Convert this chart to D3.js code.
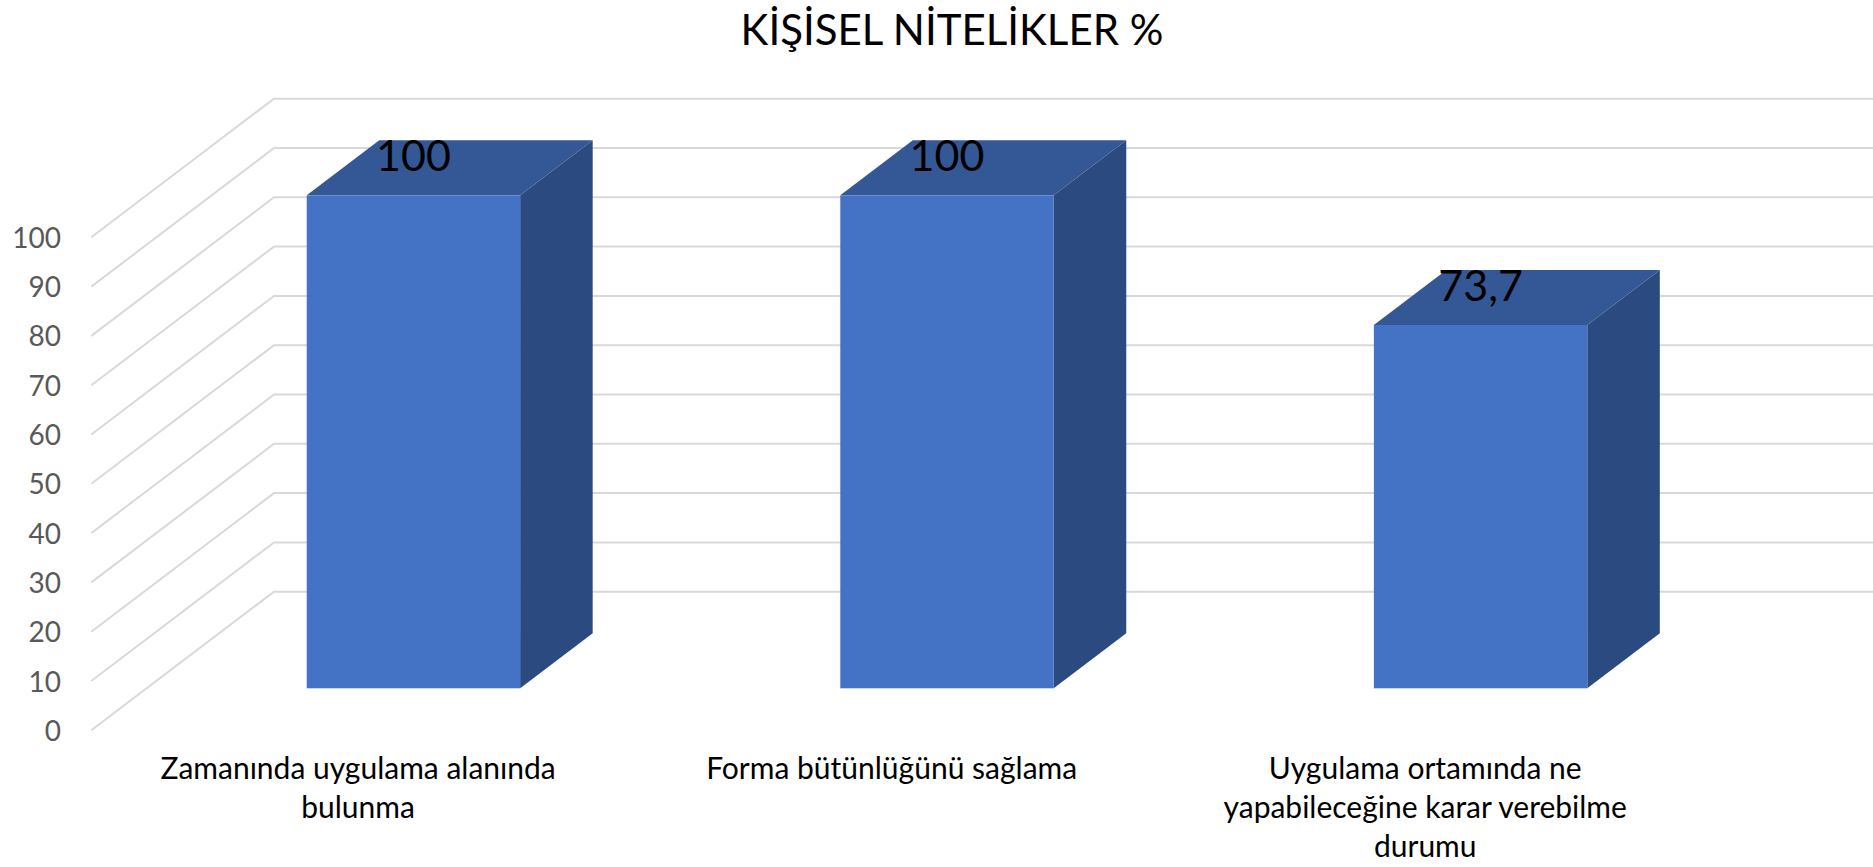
<!DOCTYPE html>
<html lang="tr">
<head>
<meta charset="utf-8">
<script src="https://cdnjs.cloudflare.com/ajax/libs/d3/7.9.0/d3.min.js"></script>
<style>
html,body{margin:0;padding:0;background:#fff;overflow:hidden}
svg{display:block;font-family:Lato,"Open Sans",sans-serif}
</style>
</head>
<body>
<svg id="chart" width="1873" height="867"></svg>
<script>
const chartTitle = "KİŞİSEL NİTELİKLER %";
const categories = ["Zamanında uygulama alanında bulunma", "Forma bütünlüğünü sağlama", "Uygulama ortamında ne yapabileceğine karar verebilme durumu"];
const categoryLines = [
  ["Zamanında uygulama alanında", "bulunma"],
  ["Forma bütünlüğünü sağlama"],
  ["Uygulama ortamında ne", "yapabileceğine karar verebilme", "durumu"]
];
const values = [100, 100, 73.7];
const valueLabels = ["100", "100", "73,7"];
const yTicks = [0, 10, 20, 30, 40, 50, 60, 70, 80, 90, 100];

const svg = d3.select("#chart");
const W = 1873;
const plotLeft = 91.3, plotRight = 1692;
const yZero = 730.3, yHundred = 237.3;
const wallDx = 182.7, wallDy = 138.6;
const depthStart = 0.303, depthEnd = 0.7;

const x = d3.scaleBand().domain(categories).range([plotLeft, plotRight]).paddingInner(0.6).paddingOuter(0.3);
const y = d3.scaleLinear().domain([0, 100]).range([yZero, yHundred]);
const line = d3.line();

// gridlines: side wall and back wall
svg.append("g").selectAll("path").data(yTicks).join("path")
  .attr("fill", "none").attr("stroke", "#D9D9D9").attr("stroke-width", 2)
  .attr("d", t => line([[plotLeft, y(t)], [plotLeft + wallDx, y(t) - wallDy], [W, y(t) - wallDy]]));

// tick labels
const yAxis = svg.append("g").attr("transform", "translate(61,0)")
  .call(d3.axisLeft(y).tickValues(yTicks).tickSize(0).tickPadding(0).tickFormat(d3.format("d")));
yAxis.select(".domain").remove();
yAxis.selectAll("text").attr("fill", "#595959").attr("font-size", 28).attr("font-family", "Lato").attr("dy", "0.36em");

// 3D bars
const offs = d => [wallDx * d, -wallDy * d];
const [sx, sy] = offs(depthStart);
const [ex, ey] = offs(depthEnd);
const ddx = ex - sx, ddy = ey - sy;
const bars = svg.append("g").selectAll("g").data(categories).join("g");
const fx = d => x(d) + sx;
const fr = d => x(d) + sx + x.bandwidth();
const ft = (d, i) => y(values[i]) + sy;
const fb = y(0) + sy;

bars.append("path").attr("fill", "#2B4A80")
  .attr("d", (d, i) => line([[fr(d), ft(d, i)], [fr(d) + ddx, ft(d, i) + ddy], [fr(d) + ddx, fb + ddy], [fr(d), fb]]) + "Z");
bars.append("path").attr("fill", "#345796")
  .attr("d", (d, i) => line([[fx(d), ft(d, i)], [fx(d) + ddx, ft(d, i) + ddy], [fr(d) + ddx, ft(d, i) + ddy], [fr(d), ft(d, i)]]) + "Z");
bars.append("rect").attr("fill", "#4472C4")
  .attr("x", d => fx(d)).attr("width", x.bandwidth())
  .attr("y", (d, i) => ft(d, i)).attr("height", (d, i) => fb - ft(d, i));

// value labels
bars.append("text").attr("text-anchor", "middle").attr("fill", "#000")
  .attr("font-size", 43)
  .attr("x", d => fx(d) + x.bandwidth() / 2)
  .attr("y", (d, i) => ft(d, i) - 24)
  .text((d, i) => valueLabels[i]);

// category labels
svg.append("g").selectAll("text").data(categories).join("text")
  .attr("text-anchor", "middle").attr("fill", "#000").attr("font-size", 30)
  .attr("transform", d => `translate(${x(d) + x.bandwidth() / 2},0)`)
  .each(function (d, i) {
    d3.select(this).selectAll("tspan").data(categoryLines[i]).join("tspan")
      .attr("x", 0).attr("y", (l, j) => 779 + j * 39).text(l => l);
  });

// title
svg.append("text").attr("x", 952).attr("y", 45).attr("text-anchor", "middle")
  .attr("fill", "#000").attr("font-size", 42).text(chartTitle);
</script>
</body>
</html>
